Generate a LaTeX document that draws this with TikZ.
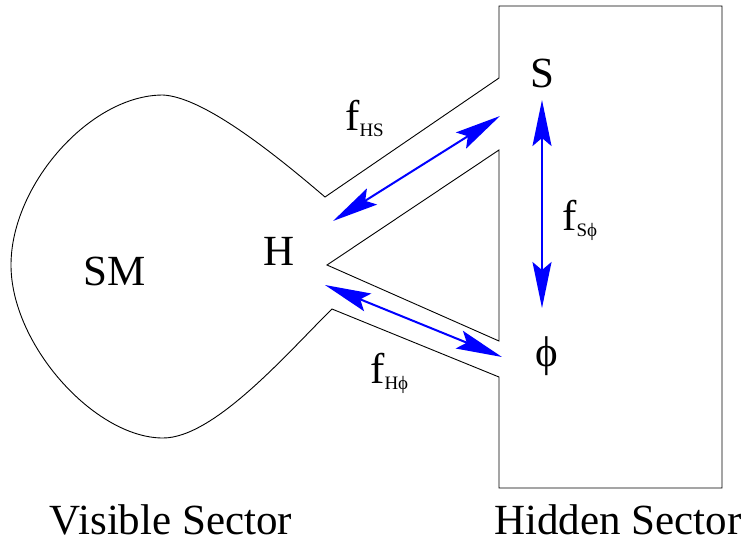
\documentclass[tikz,border=0pt]{standalone}
\usepackage{fontspec}
\setmainfont{Liberation Serif}
\usetikzlibrary{arrows.meta}

\newcommand{\lowsub}[1]{\raisebox{-6pt}{\fontsize{19}{20}\selectfont #1}}

\begin{document}
\begin{tikzpicture}[
    x=1pt, y=-1pt,
    every node/.style={font=\fontsize{43}{50}\selectfont, inner sep=0pt},
    partlbl/.style={anchor=base},
    couplbl/.style={anchor=base west},
    sectorlbl/.style={anchor=base},
    wall/.style={line width=0.9pt, line join=miter},
    flow/.style={
        blue, line width=2pt,
        {Stealth[length=46pt, width=19pt, inset=8pt]}-{Stealth[length=46pt, width=19pt, inset=8pt]}
    }
]
\useasboundingbox (0,0) rectangle (745,542);

% Blase SM, Kanaele und versteckter Sektor
\draw[wall] (325,197) .. controls (262,143) and (200,97) .. (163,95)
    .. controls (90,95) and (11,185) .. (11,265)
    .. controls (11,345) and (95,438) .. (163,438)
    .. controls (215,438) and (290,350) .. (332,309)
    -- (499,377) -- (499,488) -- (722,488) -- (722,6) -- (499,6)
    -- (499,78) -- cycle;

% Keil zwischen den Kanaelen
\draw[wall] (499,150) -- (327,265) -- (499,341) -- cycle;

% Teilchen
\node[partlbl] (sm) at (115,285) {SM};
\node[partlbl] (h) at (279,265) {H};
\node[partlbl] (s) at (542,87) {S};
\node (phi) at (547,356) {ϕ};

% Kopplungen
\coordinate (hs-h) at (333,221);
\coordinate (hs-s) at (500,116);
\coordinate (hp-h) at (325,285);
\coordinate (hp-p) at (502,357);
\coordinate (sp-s) at (542,100);
\coordinate (sp-p) at (542,308);

\draw[flow] (hs-h) -- (hs-s);
\draw[flow] (hp-h) -- (hp-p);
\draw[flow] (sp-s) -- (sp-p);

\node[couplbl] (fhs) at (345,130) {f\lowsub{HS}};
\node[couplbl] (fsp) at (562,230) {f\lowsub{Sϕ}};
\node[couplbl] (fhp) at (370,383) {f\lowsub{Hϕ}};

% Sektoren
\node[sectorlbl] (vis) at (171,534) {Visible Sector};
\node[sectorlbl] (hid) at (618,534) {Hidden Sector};

\end{tikzpicture}
\end{document}
